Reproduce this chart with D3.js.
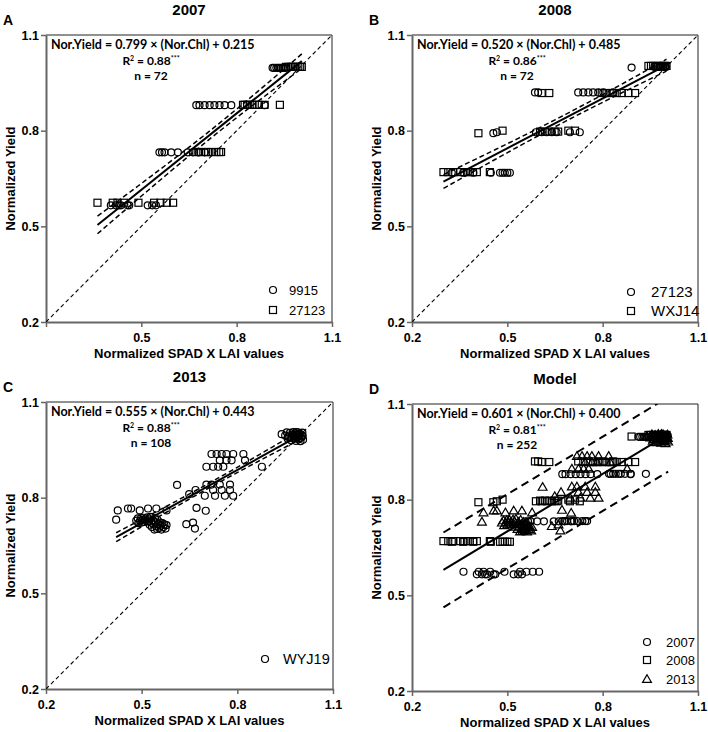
<!DOCTYPE html>
<html><head><meta charset="utf-8">
<script src="https://cdn.jsdelivr.net/npm/d3@7"></script>
<style>body{margin:0;background:#fff}</style>
</head><body>
<svg id="c" width="708" height="732"></svg>
<script>
// ---------- text / labels ----------
const tickValues = [0.2, 0.5, 0.8, 1.1];
const panelLetters = ["A", "B", "C", "D"];
const panelTitles = ["2007", "2008", "2013", "Model"];
const slopes = [0.799, 0.520, 0.555, 0.601];
const intercepts = [0.215, 0.485, 0.443, 0.400];
const slopeLabels = ["0.799", "0.520", "0.555", "0.601"];
const interceptLabels = ["0.215", "0.485", "0.443", "0.400"];
const r2Labels = ["0.88", "0.86", "0.88", "0.81"];
const nLabels = ["72", "72", "108", "252"];
const xAxisTitle = "Normalized SPAD X LAI values";
const yAxisTitle = "Normalized Yield";

// ---------- 2007 (panel A) ----------
const y2007_9915 = [
 [0.913,0.997],[0.918,0.997],[0.925,0.997],[0.930,0.997],[0.935,0.997],[0.940,0.997],[0.945,0.997],[0.950,0.997],[0.955,0.997],
 [0.673,0.880],[0.683,0.880],[0.699,0.880],[0.715,0.880],[0.730,0.880],[0.746,0.880],[0.762,0.880],[0.783,0.880],[0.888,0.880],
 [0.557,0.732],[0.565,0.732],[0.573,0.732],[0.594,0.732],[0.615,0.732],[0.646,0.732],[0.662,0.732],[0.680,0.732],[0.700,0.732],
 [0.404,0.566],[0.420,0.566],[0.430,0.566],[0.436,0.566],[0.457,0.566],[0.462,0.566],[0.520,0.566],[0.534,0.566],[0.546,0.566]
];
const y2007_27123 = [
 [0.955,1.000],[0.962,1.000],[0.970,1.000],[0.976,1.000],[0.982,1.000],[0.988,1.000],[0.994,1.000],[1.000,1.000],[1.005,1.000],
 [0.820,0.881],[0.825,0.881],[0.833,0.881],[0.841,0.881],[0.850,0.881],[0.857,0.881],[0.870,0.881],[0.888,0.881],[0.936,0.881],
 [0.673,0.733],[0.680,0.733],[0.688,0.733],[0.704,0.733],[0.710,0.733],[0.720,0.733],[0.736,0.733],[0.745,0.733],[0.751,0.733],
 [0.362,0.574],[0.410,0.574],[0.425,0.574],[0.446,0.574],[0.491,0.574],[0.540,0.574],[0.560,0.574],[0.580,0.574],[0.600,0.574]
];

// ---------- 2008 (panel B) ----------
const y2008_27123 = [
 [0.891,0.998],[0.963,1.000],[0.970,1.000],[0.978,1.000],[0.982,1.000],[0.985,1.000],[0.990,1.000],[0.995,1.000],[0.999,1.000],
 [0.587,0.920],[0.597,0.920],[0.723,0.920],[0.739,0.920],[0.755,0.920],[0.770,0.920],[0.786,0.920],[0.802,0.920],[0.833,0.920],
 [0.456,0.792],[0.467,0.795],[0.590,0.795],[0.608,0.795],[0.624,0.795],[0.640,0.795],[0.655,0.795],[0.697,0.795],[0.728,0.795],
 [0.325,0.668],[0.361,0.668],[0.393,0.668],[0.448,0.668],[0.477,0.668],[0.485,0.668],[0.492,0.668],[0.500,0.668],[0.508,0.668]
];
const y2008_WXJ14 = [
 [0.944,1.003],[0.952,1.003],[0.959,1.003],[0.967,1.003],[0.975,1.003],[0.983,1.003],[0.991,1.003],[0.996,1.003],[1.001,1.003],
 [0.608,0.918],[0.632,0.918],[0.797,0.918],[0.812,0.918],[0.828,0.918],[0.844,0.918],[0.860,0.918],[0.881,0.918],[0.902,0.918],
 [0.409,0.792],[0.485,0.800],[0.603,0.797],[0.618,0.797],[0.633,0.797],[0.649,0.797],[0.660,0.797],[0.692,0.800],[0.713,0.800],
 [0.299,0.670],[0.314,0.670],[0.330,0.670],[0.351,0.670],[0.365,0.670],[0.377,0.670],[0.392,0.670],[0.404,0.670],[0.445,0.670]
];

// ---------- 2013 (panel C) ----------
const y2013_WYJ19 = [
 [0.939,0.999],[0.950,0.995],[0.955,1.005],[0.958,0.985],[0.962,0.995],[0.965,1.003],[0.968,0.980],[0.970,0.990],[0.972,0.998],[0.975,1.006],
 [0.977,0.985],[0.980,0.995],[0.982,1.002],[0.984,0.978],[0.986,0.990],[0.988,0.998],[0.990,1.005],[0.992,0.983],[0.994,0.993],[0.996,1.000],
 [0.998,0.977],[1.000,0.988],[1.002,0.996],[1.004,1.004],[1.006,0.982],[0.960,0.990],[0.978,0.992],[0.995,0.986],[1.005,0.993],[0.985,1.006],
 [0.719,0.937],[0.735,0.937],[0.751,0.937],[0.766,0.937],[0.787,0.937],[0.819,0.937],
 [0.745,0.917],[0.766,0.917],[0.782,0.917],[0.824,0.917],
 [0.703,0.897],[0.724,0.897],[0.740,0.897],[0.756,0.897],[0.877,0.897],
 [0.611,0.840],[0.703,0.841],[0.719,0.841],[0.745,0.841],[0.777,0.841],
 [0.669,0.824],[0.724,0.824],[0.751,0.824],[0.777,0.824],
 [0.698,0.806],[0.730,0.806],[0.761,0.806],[0.787,0.806],[0.649,0.811],
 [0.672,0.768],[0.701,0.759],
 [0.425,0.760],[0.420,0.731],[0.457,0.766],[0.467,0.766],[0.494,0.760],[0.520,0.766],[0.546,0.766],[0.578,0.760],
 [0.640,0.717],[0.661,0.722],[0.667,0.703],
 [0.483,0.728],[0.488,0.735],[0.490,0.720],[0.495,0.728],[0.498,0.736],[0.500,0.722],[0.503,0.730],[0.506,0.737],[0.509,0.724],[0.512,0.731],
 [0.518,0.738],[0.520,0.725],[0.523,0.732],[0.525,0.715],[0.527,0.740],[0.530,0.722],[0.532,0.708],[0.535,0.730],[0.537,0.716],[0.540,0.700],
 [0.542,0.737],[0.544,0.723],[0.546,0.710],[0.548,0.702],[0.550,0.730],[0.552,0.716],[0.555,0.705],[0.558,0.722],[0.560,0.712],[0.562,0.700],
 [0.565,0.720],[0.568,0.708],[0.571,0.716],[0.575,0.703],[0.578,0.714],[0.538,0.725]
];

// ---------- panel definitions ----------
const panels = [
 { box:[46,35,332,322], band:"ci", oneToOne:true, hideX:[0.2], legFont:13,
   leg:{sx:-59, tx:-43, rows:[-32,-12]},
   series:[{name:"9915", shape:"circle", pts:y2007_9915},{name:"27123", shape:"square", pts:y2007_27123}] },
 { box:[412,35,698,322], band:"ci", oneToOne:true, hideX:[], legFont:15,
   leg:{sx:-67, tx:-47, rows:[-30,-11]},
   series:[{name:"27123", shape:"circle", pts:y2008_27123},{name:"WXJ14", shape:"square", pts:y2008_WXJ14}] },
 { box:[46,402,333,689], band:"ci", oneToOne:true, hideX:[], legFont:14.5,
   leg:{sx:-68, tx:-50, rows:[-30]},
   series:[{name:"WYJ19", shape:"circle", pts:y2013_WYJ19}] },
 { box:[412,404,698,691], band:"pi", oneToOne:false, hideX:[], legFont:13,
   leg:{sx:-51, tx:-32, rows:[-49,-31,-12]},
   series:[{name:"2007", shape:"circle", pts:y2007_9915.concat(y2007_27123)},
           {name:"2008", shape:"square", pts:y2008_27123.concat(y2008_WXJ14)},
           {name:"2013", shape:"triangle", pts:y2013_WYJ19}] }
];

const svg = d3.select("#c");
const axisFont = "'Liberation Sans', Arial, sans-serif";
const eqFont = "Lato, 'Open Sans', sans-serif";

function drawSymbol(g, shape, x, y) {
  if (shape === "circle") {
    g.append("circle").attr("cx", x).attr("cy", y).attr("r", 3.5)
      .attr("fill", "none").attr("stroke", "#000").attr("stroke-width", 1.2);
  } else if (shape === "square") {
    g.append("rect").attr("x", x - 3.5).attr("y", y - 3.5).attr("width", 7).attr("height", 7)
      .attr("fill", "none").attr("stroke", "#000").attr("stroke-width", 1.2);
  } else {
    g.append("path").attr("d", d3.symbol(d3.symbolTriangle, 34)())
      .attr("transform", `translate(${x},${y + 0.8})`)
      .attr("fill", "none").attr("stroke", "#000").attr("stroke-width", 1.2);
  }
}

panels.forEach((p, i) => {
  const [L, T, R, B] = p.box;
  const x = d3.scaleLinear().domain([0.2, 1.1]).range([L, R]);
  const y = d3.scaleLinear().domain([0.2, 1.1]).range([B, T]);
  const g = svg.append("g");

  const clipId = "clip" + i;
  svg.append("clipPath").attr("id", clipId).append("rect")
    .attr("x", L).attr("y", T).attr("width", R - L).attr("height", B - T);

  // frame (top/right)
  g.append("path").attr("d", `M${L},${T}H${R}V${B}`).attr("fill", "none")
    .attr("stroke", "#222").attr("stroke-width", 1);

  // axes
  const xAxis = d3.axisBottom(x).tickValues(tickValues).tickSize(5).tickSizeOuter(0)
    .tickFormat(d => p.hideX.includes(d) ? "" : d3.format(".1f")(d));
  const yAxis = d3.axisLeft(y).tickValues(tickValues).tickSize(5).tickSizeOuter(0)
    .tickFormat(d3.format(".1f"));
  const gx = g.append("g").attr("transform", `translate(0,${B})`).call(xAxis);
  const gy = g.append("g").attr("transform", `translate(${L},0)`).call(yAxis);
  [gx, gy].forEach(a => {
    a.select(".domain").attr("stroke", "#666").attr("stroke-width", 2);
    a.selectAll(".tick line").attr("stroke", "#666").attr("stroke-width", 1.5);
    a.selectAll(".tick text").attr("fill", "#000").style("font-family", axisFont)
      .style("font-size", "12.5px").style("font-weight", "bold");
  });
  gx.selectAll(".tick text").attr("dy", "0.95em");
  gy.selectAll(".tick text").attr("x", -7);

  // titles
  g.append("text").attr("x", (L + R) / 2).attr("y", T - 20).attr("text-anchor", "middle")
    .style("font-family", axisFont).style("font-size", "15px").style("font-weight", "bold")
    .text(panelTitles[i]);
  g.append("text").attr("x", L - 43).attr("y", T - 10)
    .style("font-family", axisFont).style("font-size", "14px").style("font-weight", "bold")
    .text(panelLetters[i]);
  g.append("text").attr("x", (L + R) / 2).attr("y", B + 36).attr("text-anchor", "middle")
    .style("font-family", axisFont).style("font-size", "13px").style("font-weight", "bold")
    .text(xAxisTitle);
  g.append("text").attr("transform", `translate(${L - 31},${(T + B) / 2}) rotate(-90)`)
    .attr("text-anchor", "middle")
    .style("font-family", axisFont).style("font-size", "13px").style("font-weight", "bold")
    .text(yAxisTitle);

  const plot = g.append("g").attr("clip-path", `url(#${clipId})`);

  // 1:1 line
  if (p.oneToOne) {
    plot.append("line").attr("x1", x(0.2)).attr("y1", y(0.2)).attr("x2", x(1.1)).attr("y2", y(1.1))
      .attr("stroke", "#000").attr("stroke-width", 1.1).attr("stroke-dasharray", "4,3");
  }

  // regression band stats from points, line from reported equation
  const all = p.series.flatMap(s => s.pts);
  const b = slopes[i], a = intercepts[i];
  const n = all.length;
  const xs = all.map(d => d[0]);
  const xbar = d3.mean(xs);
  const sxx = d3.sum(xs, v => (v - xbar) ** 2);
  const s = Math.sqrt(d3.sum(all, d => (d[1] - (a + b * d[0])) ** 2) / (n - 2));
  const tval = 1.98;
  const [xmin, xmax] = d3.extent(xs);
  const grid = d3.range(0, 61).map(k => xmin + (xmax - xmin) * k / 60);
  const half = v => tval * s * Math.sqrt((p.band === "pi" ? 1 : 0) + 1 / n + (v - xbar) ** 2 / sxx);
  const line = d3.line().x(d => x(d[0])).y(d => y(d[1]));
  const bandDash = p.band === "pi" ? "8,5" : "5,3";
  const bandW = p.band === "pi" ? 2 : 1.5;
  [1, -1].forEach(sg => {
    plot.append("path").attr("d", line(grid.map(v => [v, a + b * v + sg * half(v)])))
      .attr("fill", "none").attr("stroke", "#000").attr("stroke-width", bandW).attr("stroke-dasharray", bandDash);
  });
  plot.append("path").attr("d", line([[xmin, a + b * xmin], [xmax, a + b * xmax]]))
    .attr("fill", "none").attr("stroke", "#000").attr("stroke-width", 2);

  // points
  p.series.forEach(se => se.pts.forEach(d => drawSymbol(plot, se.shape, x(d[0]), y(d[1]))));

  // equation text
  const eq = g.append("g").style("font-family", eqFont).style("font-weight", "bold");
  eq.append("text").attr("x", L + 5).attr("y", T + 14).style("font-size", "12.5px")
    .text(`Nor.Yield = ${slopeLabels[i]} × (Nor.Chl) + ${interceptLabels[i]}`);
  const r2 = eq.append("text").attr("x", L + 105).attr("y", T + 30).attr("text-anchor", "middle")
    .style("font-size", "12px");
  r2.append("tspan").text("R");
  r2.append("tspan").attr("dy", -4).style("font-size", "7px").text("2");
  r2.append("tspan").attr("dy", 4).text(` = ${r2Labels[i]}`);
  r2.append("tspan").attr("dy", -4).style("font-size", "7px").text("***");
  eq.append("text").attr("x", L + 105).attr("y", T + 45).attr("text-anchor", "middle")
    .style("font-size", "12px").text(`n = ${nLabels[i]}`);

  // legend
  p.series.forEach((se, k) => {
    const yy = B + p.leg.rows[k];
    drawSymbol(g, se.shape, R + p.leg.sx, yy);
    g.append("text").attr("x", R + p.leg.tx).attr("y", yy + 5)
      .style("font-family", axisFont).style("font-size", p.legFont + "px").text(se.name);
  });
});
</script>
</body></html>
